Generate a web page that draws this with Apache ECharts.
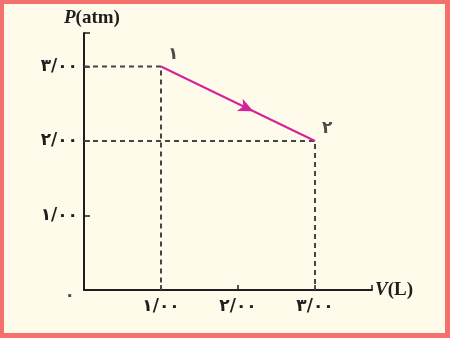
<!DOCTYPE html>
<html><head><meta charset="utf-8">
<script src="https://cdn.jsdelivr.net/npm/echarts@6/dist/echarts.min.js"></script>
<style>html,body{margin:0;padding:0;}#c{width:450px;height:338px;}</style>
</head><body><div id="c"></div>
<script>
// Data
const xTicks = [1, 2, 3];
const xTickLabels = ['۱/۰۰', '۲/۰۰', '۳/۰۰'];
const yTicks = [1, 2, 3];
const yTickLabels = ['۱/۰۰', '۲/۰۰', '۳/۰۰'];
const originLabel = '۰';
const processV = [1, 3];
const processP = [3, 2];
const stateNames = ['۱', '۲'];
const arrowPos = [2.2, 2.4];

const chart = echarts.init(document.getElementById('c'));
const fontFam = '"DejaVu Sans", "Noto Sans", sans-serif';
const dashStyle = {color: '#444', width: 2, type: [5, 4]};
const ink = '#1e1e1e';

const guides = processV.map((v, i) => ({
  type: 'line', data: [[0, processP[i]], [v, processP[i]], [v, 0]],
  symbol: 'none', lineStyle: dashStyle, silent: true, z: 1
}));

chart.setOption({
  backgroundColor: '#f4706c',
  animation: false,
  graphic: [{type: 'rect', shape: {x: 4, y: 4, width: 441, height: 329}, style: {fill: '#fffbea'}, z: -10}],
  grid: {left: 84, top: 33, width: 288, height: 257, containLabel: false},
  xAxis: {
    type: 'value', min: 0, max: 3.74, interval: 1,
    axisLine: {lineStyle: {color: ink, width: 2}},
    axisTick: {show: true, inside: true, length: 5, lineStyle: {color: ink, width: 1.5}},
    splitLine: {show: false},
    axisLabel: {
      margin: 8, fontFamily: fontFam, fontWeight: 'bold', fontSize: 17, color: ink,
      formatter: v => { const i = xTicks.indexOf(v); return i >= 0 ? xTickLabels[i] : ''; }
    },
    name: '{v|V}{u|(L)}', nameLocation: 'end', nameGap: 3,
    nameTextStyle: {rich: {
      v: {fontFamily: 'Liberation Serif', fontStyle: 'italic', fontWeight: 'bold', fontSize: 19, color: ink},
      u: {fontFamily: 'Liberation Serif', fontWeight: 'bold', fontSize: 19, color: ink}
    }}
  },
  yAxis: {
    type: 'value', min: 0, max: 3.45, interval: 1,
    axisLine: {show: true, lineStyle: {color: ink, width: 2}},
    axisTick: {show: true, inside: true, length: 6, lineStyle: {color: ink, width: 1.5}},
    splitLine: {show: false},
    axisLabel: {
      margin: 6, fontFamily: fontFam, fontWeight: 'bold', fontSize: 17, color: ink,
      formatter: v => { const i = yTicks.indexOf(v); return i >= 0 ? yTickLabels[i] : ''; }
    },
    name: '{p|P}{u|(atm)}', nameLocation: 'end', nameGap: 5,
    nameTextStyle: {align: 'left', padding: [0, 0, 0, -20], rich: {
      p: {fontFamily: 'Liberation Serif', fontStyle: 'italic', fontWeight: 'bold', fontSize: 19, color: ink},
      u: {fontFamily: 'Liberation Serif', fontWeight: 'bold', fontSize: 19, color: ink}
    }}
  },
  series: guides.concat([{
    type: 'line',
    data: processV.map((v, i) => [v, processP[i]]),
    symbol: 'none', lineStyle: {color: '#d4239a', width: 2}, z: 3,
    markPoint: {
      silent: true,
      data: [{coord: arrowPos, symbol: 'arrow', symbolSize: [10, 15], symbolRotate: -115, itemStyle: {color: '#d4239a'}, label: {show: false}}]
    }
  }, {
    type: 'scatter',
    data: processV.map((v, i) => ({value: [v, processP[i]], name: stateNames[i]})),
    symbolSize: 0, z: 4,
    label: {show: true, position: 'right', offset: [2, -12], formatter: p => p.name,
      fontFamily: fontFam, fontWeight: 'bold', fontSize: 17, color: ink}
  }, {
    type: 'scatter',
    data: [{value: [0, 0], name: originLabel}],
    symbolSize: 0, z: 4,
    label: {show: true, position: 'left', offset: [-4, 6], formatter: p => p.name,
      fontFamily: fontFam, fontWeight: 'bold', fontSize: 17, color: ink}
  }])
});
</script></body></html>
